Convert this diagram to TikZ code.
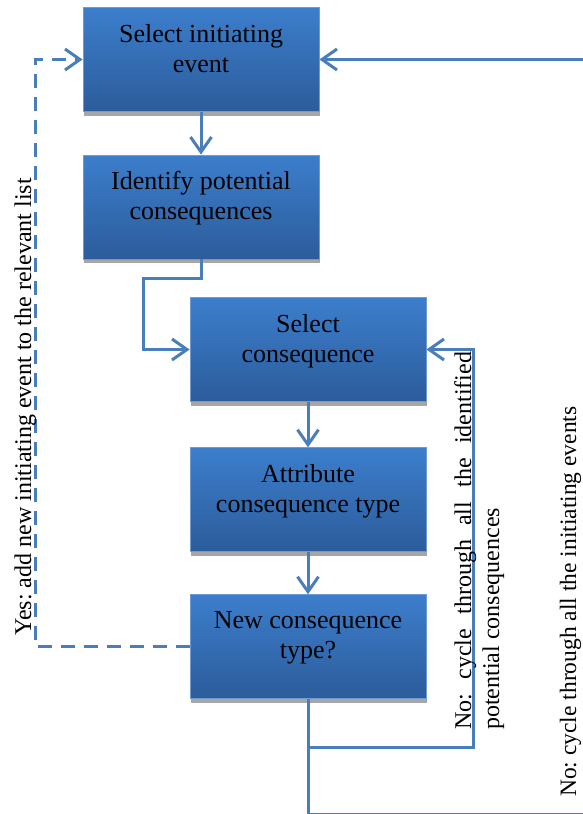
\documentclass[tikz,border=0pt]{standalone}
\usepackage{fontspec}
\setmainfont{Liberation Serif}
\usetikzlibrary{arrows.meta,shadows}
\definecolor{flowblue}{RGB}{74,126,187}
\definecolor{boxtop}{RGB}{60,126,204}
\definecolor{boxbot}{RGB}{44,92,155}
\definecolor{boxrim}{RGB}{110,155,210}
\frenchspacing

\begin{document}
\begin{tikzpicture}[x=1pt,y=-1pt,
  stepbox/.style={draw=boxrim,line width=0.8pt,top color=boxtop,bottom color=boxbot,
    minimum width=236pt,minimum height=104pt,inner sep=0pt,
    drop shadow={shadow xshift=1pt,shadow yshift=-4pt,fill=black!35,opacity=1}},
  steptext/.style={align=center,font=\fontsize{26}{30}\selectfont,inner sep=0pt,
    execute at begin node=\strut,execute at end node=\strut},
  flow/.style={draw=flowblue,line width=3pt,-{Straight Barb[length=15pt,width=21pt]}},
  back/.style={flow,dash pattern=on 14pt off 9pt},
  note/.style={rotate=90,inner sep=0pt,font=\fontsize{24}{28}\selectfont}]
\useasboundingbox (0,0) rectangle (582,814);

\node[stepbox] (init) at (201,59.5) {};
\node[steptext] (initt) at ([yshift=7pt]init.center) {Select initiating\\event};
\node[stepbox] (ident) at (201,207) {};
\node[steptext] (identt) at ([yshift=7pt]ident.center) {Identify potential\\consequences};
\node[stepbox] (selc) at (308,349.5) {};
\node[steptext] (selct) at ([yshift=7pt]selc.center) {Select\\consequence};
\node[stepbox] (attr) at (308,499.7) {};
\node[steptext] (attrt) at ([yshift=7pt]attr.center) {Attribute\\consequence type};
\node[stepbox] (newc) at (308,646.7) {};
\node[steptext] (newct) at ([yshift=7pt]newc.center) {New consequence\\type?};

\coordinate (elb) at (143,278);
\coordinate (split) at (308,747);
\coordinate (loopr) at (473,747);
\coordinate (bot) at (308,814.3);
\coordinate (botr) at (584,814.3);
\coordinate (yes) at (35,646.7);

\draw[flow] (init.south) -- (ident.north);
\draw[flow] (ident.south) |- (elb) |- (selc.west);
\draw[flow] (selc.south) -- (attr.north);
\draw[flow] (attr.south) -- (newc.north);
\draw[flow] (split) -- (loopr) |- (selc.east);
\draw[flow] (newc.south) -- (bot) -- (botr) |- (init.east);
\draw[back] (newc.west) -- (yes) |- (init.west);

\node[note,anchor=base west] (yeslbl) at (31,636) {Yes: add new initiating event to the relevant list};
\node[note,anchor=north west,text width=378pt,align=justify,
  execute at begin node={\tolerance=9999\hyphenpenalty=10000\strut}] (nocons) at (451.4,730)
  {No: cycle through all the identified potential consequences};
\node[note,anchor=base west,font=\fontsize{23.5}{28}\selectfont] (noinit) at (576,797)
  {No: cycle through all the initiating events};
\end{tikzpicture}
\end{document}
